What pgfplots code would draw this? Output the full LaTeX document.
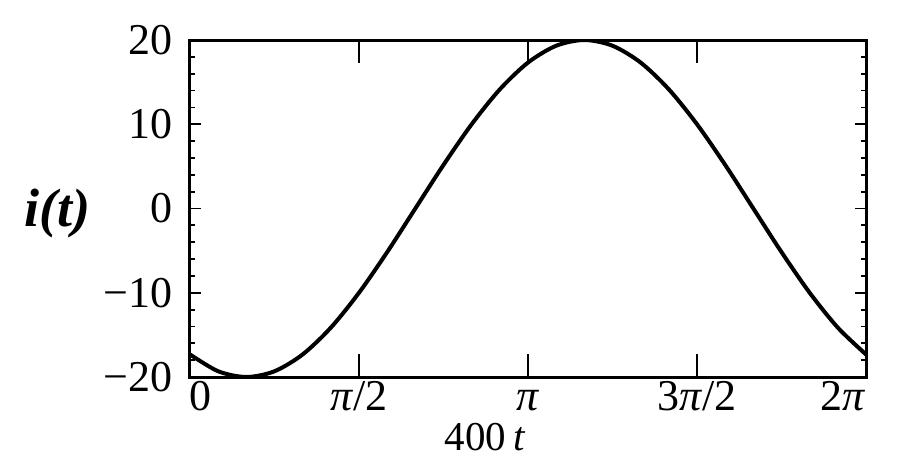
\documentclass[border=0pt]{standalone}
\usepackage{fontspec}
\setmainfont{Liberation Serif}
\usepackage{pgfplots}
\pgfplotsset{compat=1.18}

% current through one period, 400t in radians
\pgfplotstableread{
x y
0.0000 -17.3205
0.2618 -19.3185
0.5236 -20.0000
0.7854 -19.3185
1.0472 -17.3205
1.3090 -14.1421
1.5708 -10.0000
1.8326 -5.1764
2.0944 0.0000
2.3562 5.1764
2.6180 10.0000
2.8798 14.1421
3.1416 17.3205
3.4034 19.3185
3.6652 20.0000
3.9270 19.3185
4.1888 17.3205
4.4506 14.1421
4.7124 10.0000
4.9742 5.1764
5.2360 0.0000
5.4978 -5.1764
5.7596 -10.0000
6.0214 -14.1421
6.2832 -17.3205
}\current

\begin{document}
\begin{tikzpicture}
\begin{axis}[
    name=ax,
    scale only axis,
    width=338pt, height=168.5pt,
    xmin=0, xmax=6.2832,
    ymin=-20, ymax=20,
    axis line style={line width=1.5pt},
    tick align=inside,
    every tick/.style={line width=0.9pt, black},
    xtick=\empty,
    minor xtick={0.5,1,...,6},
    extra x ticks={0,1.5708,3.1416,4.7124,6.2832},
    extra x tick labels={\rlap{0},\textit{π}/2,\textit{π},3\textit{π}/2,\llap{2\textit{π}}},
    extra x tick style={major tick length=11.5pt},
    ytick={-20,-10,0,10,20},
    yticklabels={−20,−10,0,10,20},
    minor y tick num=4,
    major tick length=5.5pt,
    minor tick length=2.3pt,
    tick label style={font=\fontsize{22}{25}\selectfont, inner sep=0pt},
    xticklabel style={anchor=base, yshift=-16.5pt},
    yticklabel style={anchor=east, xshift=-8.5pt},
    xlabel={400\,\textit{t}},
    xlabel style={font=\fontsize{20.5}{23}\selectfont, at={(axis description cs:0.4364,0)}, anchor=center, yshift=-30pt},
    ylabel={\textbf{\textit{i(t)}}},
    ylabel style={font=\fontsize{27}{30}\selectfont, rotate=-90, at={(axis description cs:0,0.4866)}, anchor=center, xshift=-66.5pt},
]
\addplot[black, line width=2pt, smooth] table[x=x, y=y] {\current};
\end{axis}
\path (ax.south west) ++(-95pt,-45pt) rectangle ++(450pt,233.5pt);
\end{tikzpicture}
\end{document}
